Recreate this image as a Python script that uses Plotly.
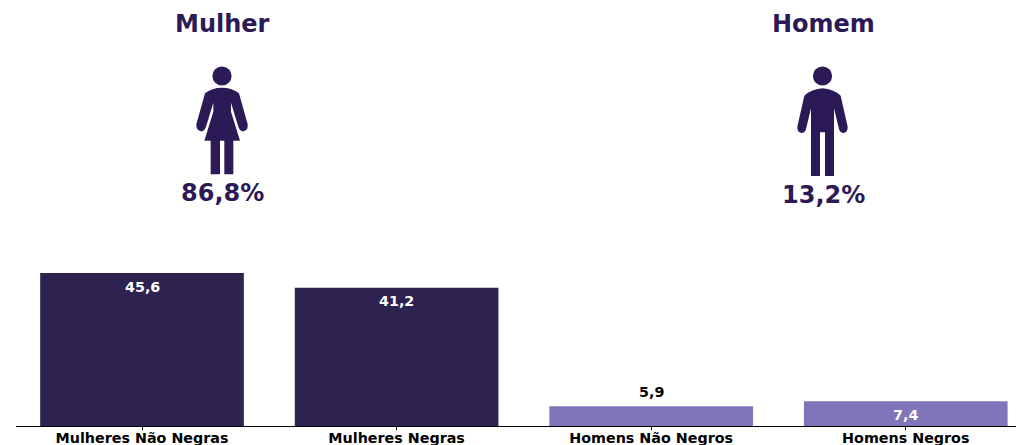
import plotly.graph_objects as go

categories = ["Mulheres Não Negras", "Mulheres Negras", "Homens Não Negros", "Homens Negros"]
values = [45.6, 41.2, 5.9, 7.4]
value_labels = ["45,6", "41,2", "5,9", "7,4"]

DARK = "#2e2350"
PURPLE = "#8074ba"
TITLE = "#2b1a55"
W, H = 1017, 445
FONT = "DejaVu Sans"
bar_colors = [DARK, DARK, PURPLE, PURPLE]
label_colors = ["white", "white", "black", "white"]
label_shifts = [-13.5, -13.5, 14.5, -13.5]


def px(x, y):
    return f"{x / W:.5f},{1 - y / H:.5f}"


def zoom_pt(ox, oy, x, y):
    return px(ox + x / 3, oy + y / 3)


def icon_path(ox, oy, cmds):
    out = []
    for c in cmds:
        pts = c[1:]
        s = " ".join(zoom_pt(ox, oy, pts[i], pts[i + 1]) for i in range(0, len(pts), 2))
        out.append(f"{c[0]} {s}" if s else c[0])
    return " ".join(out)


woman = [
    ("M", 156, 98), ("Q", 125, 98, 105, 115), ("L", 79, 208), ("Q", 78, 225, 92, 229), ("Q", 103, 229, 108, 215),
    ("L", 130, 143), ("L", 130, 170), ("L", 103, 257), ("L", 122, 257), ("L", 122, 358), ("L", 150, 358), ("L", 150, 257),
    ("L", 163, 257), ("L", 163, 358), ("L", 190, 358), ("L", 190, 257), ("L", 210, 257), ("L", 183, 170), ("L", 183, 143),
    ("L", 205, 215), ("Q", 210, 229, 221, 229), ("Q", 235, 225, 233, 208), ("L", 207, 115), ("Q", 187, 98, 156, 98), ("Z",),
]
man = [
    ("M", 158, 100), ("Q", 125, 102, 103, 122), ("L", 82, 215), ("Q", 81, 231, 94, 234), ("Q", 105, 234, 108, 222),
    ("L", 123, 160), ("L", 123, 363), ("L", 150, 363), ("L", 150, 232), ("L", 165, 232), ("L", 165, 363), ("L", 192, 363),
    ("L", 192, 160), ("L", 207, 222), ("Q", 210, 234, 221, 234), ("Q", 234, 231, 233, 215), ("L", 212, 122),
    ("Q", 190, 102, 158, 100), ("Z",),
]


def head(cx, cy, r):
    return dict(type="circle", xref="paper", yref="paper", x0=(cx - r) / W, x1=(cx + r) / W,
                y0=1 - (cy + r) / H, y1=1 - (cy - r) / H, fillcolor=TITLE, line_width=0)


def body(path):
    return dict(type="path", xref="paper", yref="paper", path=path, fillcolor=TITLE, line_width=0)


def big(text, x, y, size):
    return dict(text=f"<b>{text}</b>", xref="paper", yref="paper", x=x / W, y=1 - y / H, showarrow=False,
                xanchor="center", yanchor="middle", font=dict(family=FONT, size=size, color=TITLE))


fig = go.Figure(go.Bar(x=list(range(4)), y=values, width=0.8, marker=dict(color=bar_colors, line_width=0), hoverinfo="skip"))

annotations = [
    dict(x=i, y=v, xref="x", yref="y", text=f"<b>{t}</b>", showarrow=False, yshift=s, xanchor="center", yanchor="middle",
         font=dict(family=FONT, size=14.3, color=c))
    for i, (v, t, s, c) in enumerate(zip(values, value_labels, label_shifts, label_colors))
]
annotations += [big("Mulher", 222.5, 24.5, 24), big("Homem", 823, 24.5, 24), big("86,8%", 222.5, 192.5, 24), big("13,2%", 823, 194.5, 24)]

fig.update_layout(
    width=W, height=H, autosize=False,
    margin=dict(l=0, r=0, t=0, b=0, autoexpand=False),
    paper_bgcolor="white", plot_bgcolor="white", showlegend=False,
    xaxis=dict(domain=[16 / W, 1016 / W], range=[-0.495, 3.433], tickvals=list(range(4)), ticktext=[f"<b>{c}</b>" for c in categories],
               tickfont=dict(family=FONT, size=14.3, color="black"), ticks="outside", ticklen=3, tickcolor="black", tickwidth=1,
               ticklabelstandoff=-4,
               showline=True, linecolor="black", linewidth=1, showgrid=False, zeroline=False, fixedrange=True, automargin=False),
    yaxis=dict(domain=[(H - 426) / H, 1], range=[0, 127], visible=False, showgrid=False, zeroline=False, fixedrange=True, automargin=False),
    shapes=[head(222, 76, 9.6), body(icon_path(170, 55, woman)), head(822.5, 76, 9.6), body(icon_path(770, 55, man))],
    annotations=annotations,
)
fig.write_html("out.html", config={"displayModeBar": False},
               post_script="document.documentElement.style.overflow='hidden';document.body.style.margin='0';")
